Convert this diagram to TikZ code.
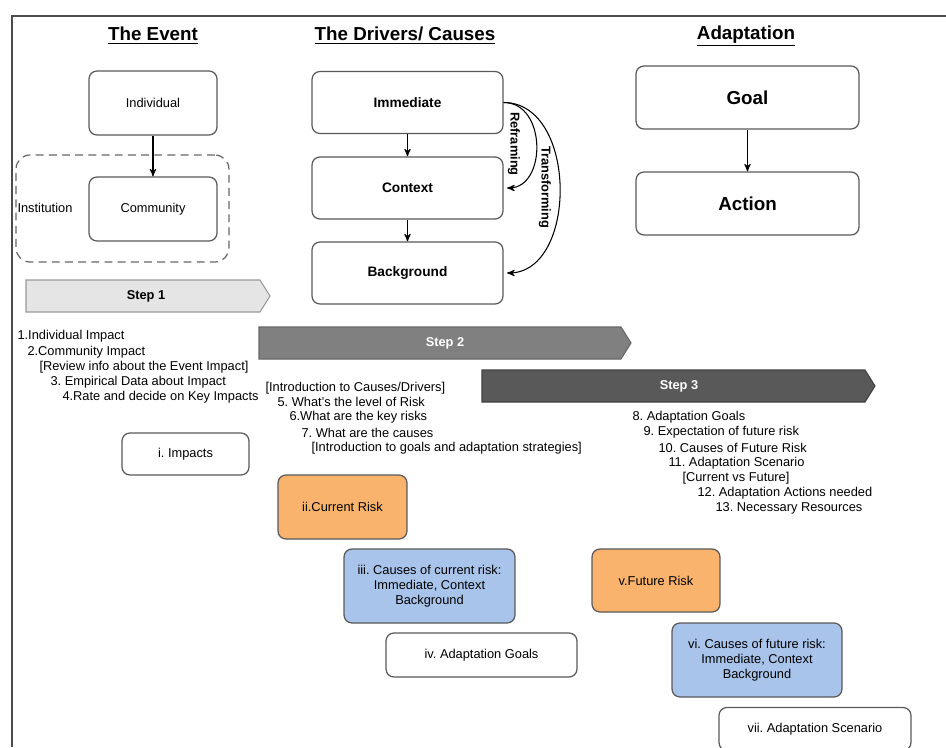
\documentclass[tikz,border=0pt]{standalone}
\usepackage{fontspec}
\setmainfont{Liberation Sans}
\usepackage{tikz}
\usetikzlibrary{arrows,positioning,calc}
\definecolor{riskorange}{HTML}{F9B36C}
\definecolor{causeblue}{HTML}{A9C4EB}
\newcommand{\txt}{\fontsize{7.3}{8.4}\selectfont}
\newcommand{\bxt}{\fontsize{7.8}{9}\selectfont\bfseries}
\newcommand{\hdt}{\fontsize{10.7}{12}\selectfont\bfseries}
\frenchspacing

\begin{document}
\begin{tikzpicture}[x=0.02cm, y=-0.02cm, ->, >=stealth', semithick,
 box/.style={draw=black!65, line width=0.7pt, rounded corners=4.5pt, align=center, inner sep=2pt, font=\txt},
 stepbar/.style={-, line width=0.6pt},
 listline/.style={anchor=west, inner sep=0pt, font=\txt}]
\useasboundingbox (0,0) rectangle (946,747);
% frame
\draw[-, line width=1.1pt, black!70] (12,747) -- (12,16) -- (946,16);

% headings
\node[font=\hdt] (hevent) at (153,36) {\underline{The Event}};
\node[font=\hdt] (hdrivers) at (405,36) {\underline{The Drivers/ Causes}};
\node[font=\hdt] (hadapt) at (746,36) {\underline{Adaptation}};

% the event
\node[box, minimum width=2.56cm, minimum height=1.28cm] (ind) at (153,103) {Individual};
\node[draw=black!60, dashed, dash pattern=on 4.5pt off 3pt, line width=0.7pt, rounded corners=8pt, minimum width=4.26cm, minimum height=2.14cm] (inst) at (122.5,208.5) {};
\node[box, minimum width=2.56cm, minimum height=1.28cm] (com) at (153,209) {Community};
\node[listline] (instlbl) at (17,208) {Institution};
\path (ind) edge (com);

% drivers
\node[box, font=\bxt, minimum width=3.82cm, minimum height=1.24cm] (imm) at (407.5,102.5) {Immediate};
\node[box, font=\bxt, minimum width=3.82cm, minimum height=1.24cm] (ctx) at (407.5,188) {Context};
\node[box, font=\bxt, minimum width=3.82cm, minimum height=1.24cm] (bgd) at (407.5,273) {Background};
\path (imm) edge (ctx);
\path (ctx) edge (bgd);
\draw[shorten >=2pt] (imm.east) to[out=0, in=0, looseness=1.3] (ctx.east);
\draw[shorten >=2pt] (imm.east) to[out=0, in=0, looseness=1.12] (bgd.east);
\node[font=\txt\bfseries, rotate=-90] (reframe) at (514,144) {Reframing};
\node[font=\txt\bfseries, rotate=-90] (transform) at (545,187) {Transforming};

% adaptation
\node[box, font=\hdt, minimum width=4.46cm, minimum height=1.26cm] (goal) at (747.5,97.5) {Goal};
\node[box, font=\hdt, minimum width=4.46cm, minimum height=1.26cm] (act) at (747.5,203.5) {Action};
\path (goal) edge (act);

% steps
\draw[stepbar, draw=black!40, fill=black!10] (26,280) -- (260,280) -- (270,296) -- (260,312) -- (26,312) -- cycle;
\node[font=\txt\bfseries] (step1) at (146,296) {Step 1};
\draw[stepbar, draw=black!60, fill=black!50] (259,327) -- (621,327) -- (631,343) -- (621,359) -- (259,359) -- cycle;
\node[font=\txt\bfseries, text=white] (step2) at (445,343) {Step 2};
\draw[stepbar, draw=black!75, fill=black!65] (482,370) -- (865,370) -- (875,386) -- (865,402) -- (482,402) -- cycle;
\node[font=\txt\bfseries, text=white] (step3) at (679,386) {Step 3};

% step 1 list
\node[listline] (e1) at (17,336) {1.Individual Impact};
\node[listline] (e2) at (27,352) {2.Community Impact};
\node[listline] (e3) at (39,367) {[Review info about the Event Impact]};
\node[listline] (e4) at (50,382) {3. Empirical Data about Impact};
\node[listline] (e5) at (62,397) {4.Rate and decide on Key Impacts};

% step 2 list
\node[listline] (d1) at (265,388) {[Introduction to Causes/Drivers]};
\node[listline] (d2) at (277,402) {5. What's the level of Risk};
\node[listline] (d3) at (289,417) {6.What are the key risks};
\node[listline] (d4) at (301,433) {7. What are the causes};
\node[listline] (d5) at (311,448) {[Introduction to goals and adaptation strategies]};

% step 3 list
\node[listline] (a1) at (632,417) {8. Adaptation Goals};
\node[listline] (a2) at (643,432) {9. Expectation of future risk};
\node[listline] (a3) at (658,448) {10. Causes of Future Risk};
\node[listline] (a4) at (668,463) {11. Adaptation Scenario};
\node[listline] (a5) at (682,478) {[Current vs Future]};
\node[listline] (a6) at (697,493) {12. Adaptation Actions needed};
\node[listline] (a7) at (715,508) {13. Necessary Resources};

% outputs
\node[box, minimum width=2.54cm, minimum height=0.84cm] (imp) at (185.5,454) {i. Impacts};
\node[box, fill=riskorange, minimum width=2.58cm, minimum height=1.28cm] (cur) at (342.5,507) {ii.Current Risk};
\node[box, fill=causeblue, minimum width=3.42cm, minimum height=1.48cm] (ccur) at (429.5,586) {iii. Causes of current risk:\\Immediate, Context\\Background};
\node[box, minimum width=3.82cm, minimum height=0.88cm] (agoals) at (481.5,655) {iv. Adaptation Goals};
\node[box, fill=riskorange, minimum width=2.56cm, minimum height=1.26cm] (fut) at (656,580.5) {v.Future Risk};
\node[box, fill=causeblue, minimum width=3.4cm, minimum height=1.48cm] (cfut) at (757,660) {vi. Causes of future risk:\\Immediate, Context\\Background};
\node[box, minimum width=3.84cm, minimum height=0.86cm] (ascen) at (815,729) {vii. Adaptation Scenario};
\end{tikzpicture}
\end{document}
